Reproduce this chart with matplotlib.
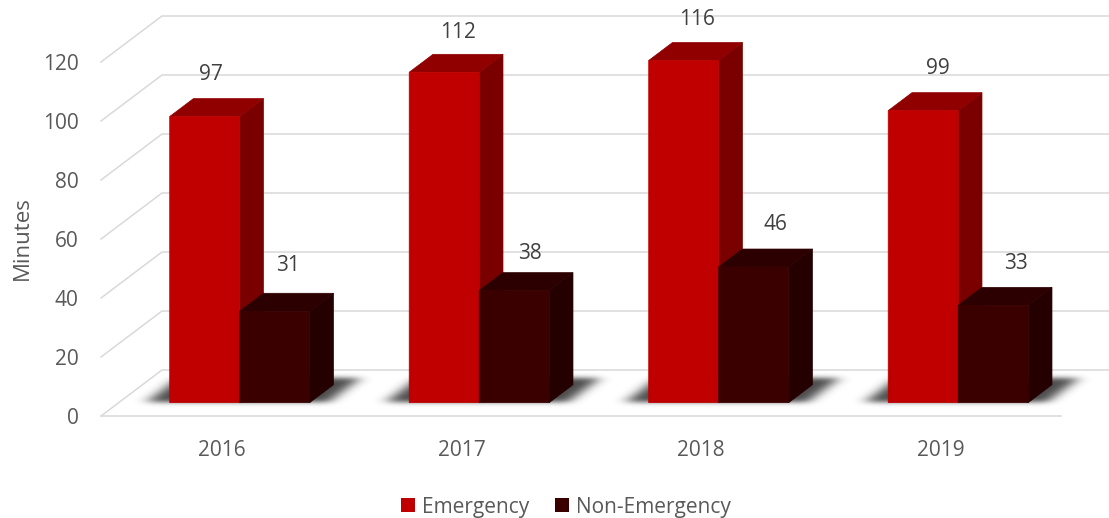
import matplotlib.pyplot as plt
import numpy as np
from matplotlib.patches import Patch, Polygon

years = ['2016', '2017', '2018', '2019']
emergency = [97, 112, 116, 99]
non_emergency = [31, 38, 46, 33]
y_ticks = [0, 20, 40, 60, 80, 100, 120]

# label nudges in pixels, the labels are not placed evenly in the original
em_label_dx = [6, 14, 13, 15]
em_label_dy = [42, 40, 41, 42]
non_label_dx = [13, 16, 22, 23]
non_label_dy = [46, 37, 42, 42]

plt.rcParams['font.family'] = ['Open Sans', 'DejaVu Sans']

W, H = 1109, 518
fig = plt.figure(figsize=(W / 100, H / 100), dpi=100)
ax = fig.add_axes([101 / W, (H - 416) / H, 960 / W, 354 / H])
ax.set_xlim(-121 / 239.5, 839 / 239.5)
ax.set_ylim(0, 120)
for s in ax.spines.values():
    s.set_visible(False)

# fake 3D: depth 1 is the back wall
DX = 61 / 239.5
DY = 46 / 2.95
BAR_W = 70 / 239.5
BAR_FRONT = 0.29
BAR_DEPTH = 0.39


def pt(x, y, depth):
    return (x + depth * DX, y + depth * DY)


def box(x0, x1, val, front, top, side, z):
    d0, d1 = BAR_FRONT, BAR_FRONT + BAR_DEPTH
    ax.add_patch(Polygon([pt(x1, 0, d0), pt(x1, 0, d1), pt(x1, val, d1), pt(x1, val, d0)],
                         fc=side, ec=side, lw=0.5, clip_on=False, zorder=z, snap=False))
    ax.add_patch(Polygon([pt(x0, val, d0), pt(x1, val, d0), pt(x1, val, d1), pt(x0, val, d1)],
                         fc=top, ec=top, lw=0.5, clip_on=False, zorder=z, snap=False))
    ax.add_patch(Polygon([pt(x0, 0, d0), pt(x1, 0, d0), pt(x1, val, d0), pt(x0, val, d0)],
                         fc=front, ec=front, lw=0.5, clip_on=False, zorder=z, snap=False))


def blur(a, sigma, axis):
    r = int(3 * sigma)
    g = np.exp(-0.5 * (np.arange(-r, r + 1) / sigma) ** 2)
    g /= g.sum()
    return np.apply_along_axis(lambda m: np.convolve(m, g, mode='same'), axis, a)


def shadow_layer():
    # soft floor shadow under each bar pair, rendered on a pixel grid
    px, py = np.meshgrid(np.arange(W) + 0.5, np.arange(300, 440) + 0.5)
    depth = (416 - py) / 46
    base = (px - 61 * depth - 222) / 239.5
    mask = np.zeros(px.shape)
    for i in range(len(years)):
        inside = (base > i - BAR_W - 0.10) & (base < i + BAR_W + 0.075)
        mask[inside & (depth > 0.30) & (depth < 0.82)] = 1
    mask = blur(blur(mask, 7, 1), 2.5, 0)
    rgba = np.zeros(px.shape + (4,))
    rgba[..., :3] = 0.12
    rgba[..., 3] = mask * 0.8
    inv = ax.transData.inverted()
    (x0, y0), (x1, y1) = inv.transform([(0, H - 300), (W, H - 440)])
    xlim, ylim = ax.get_xlim(), ax.get_ylim()
    ax.imshow(rgba, extent=(x0, x1, y1, y0), origin='upper', aspect='auto',
              interpolation='nearest', clip_on=False, zorder=2)
    ax.set_xlim(xlim)
    ax.set_ylim(ylim)


# walls and floor lines
x_lo, x_hi = ax.get_xlim()
for t in y_ticks:
    p0 = pt(x_lo, t, 0)
    p1 = pt(x_lo, t, 1)
    p2 = pt(x_hi, t, 1)
    ax.plot([p0[0], p1[0], p2[0]], [p0[1], p1[1], p2[1]], color='#D9D9D9', lw=1.1,
            clip_on=False, zorder=1, solid_joinstyle='miter')
ax.plot([x_lo, x_hi], [0, 0], color='#D9D9D9', lw=1.1, clip_on=False, zorder=1)

shadow_layer()

for i in range(len(years)):
    box(i - BAR_W, i, emergency[i], '#C00000', '#900000', '#7A0000', 3)
    box(i, i + BAR_W, non_emergency[i], '#3A0000', '#2C0000', '#240000', 4)

    xy = pt(i - BAR_W / 2, emergency[i], BAR_FRONT)
    ax.annotate(str(emergency[i]), xy, xytext=(em_label_dx[i] * 0.72, em_label_dy[i] * 0.72),
                textcoords='offset points', ha='center', va='center',
                fontsize=15, color='#404040', zorder=5, annotation_clip=False)
    xy = pt(i + BAR_W / 2, non_emergency[i], BAR_FRONT)
    ax.annotate(str(non_emergency[i]), xy, xytext=(non_label_dx[i] * 0.72, non_label_dy[i] * 0.72),
                textcoords='offset points', ha='center', va='center',
                fontsize=15, color='#404040', zorder=5, annotation_clip=False)

ax.set_xticks(range(len(years)), years)
ax.set_yticks(y_ticks)
ax.tick_params(axis='x', length=0, pad=17, labelsize=15, labelcolor='#595959')
ax.tick_params(axis='y', length=0, pad=16, labelsize=15, labelcolor='#595959')
fig.text(22 / W, 1 - 238 / H, 'Minutes', rotation=90, ha='center', va='center',
         fontsize=16, color='#595959')

handles = [Patch(fc='#C00000', label='Emergency'), Patch(fc='#3A0000', label='Non-Emergency')]
fig.legend(handles=handles, ncol=2, loc='center', bbox_to_anchor=(566 / W, 1 - 507 / H),
           frameon=False, fontsize=15, labelcolor='#595959', handlelength=0.67,
           handleheight=0.67, handletextpad=0.35, columnspacing=1.2)

fig.savefig('out.png', dpi=100)
